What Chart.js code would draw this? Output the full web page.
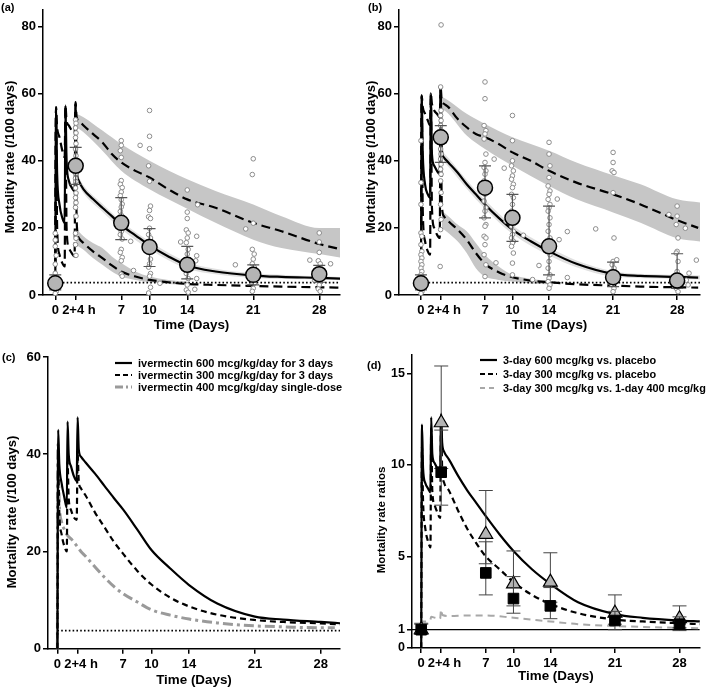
<!DOCTYPE html>
<html><head><meta charset="utf-8">
<script src="https://cdn.jsdelivr.net/npm/chart.js@4.4.1/dist/chart.umd.min.js"></script>
<style>
html,body{margin:0;padding:0;background:#fff;}
#wrap{position:relative;width:709px;height:690px;overflow:hidden;font-family:'Liberation Sans',Arial,sans-serif;font-weight:bold;color:#000;background:#fff;}
canvas{position:absolute;}
.t{position:absolute;white-space:nowrap;font-size:11px;}
.yt{position:absolute;white-space:nowrap;transform:translate(-50%,-50%) rotate(-90deg);font-size:13px;}
.lg{position:absolute;font-size:11px;line-height:14px;height:14px;white-space:nowrap;}
.lg svg{position:absolute;left:0;top:0;}
.lg span{position:absolute;left:23px;top:0;}
</style></head>
<body><div id="wrap">
<canvas id="ca" width="355" height="340" style="left:0;top:0"></canvas>
<canvas id="cb" width="354" height="340" style="left:355px;top:0"></canvas>
<canvas id="cc" width="355" height="350" style="left:0;top:340px"></canvas>
<canvas id="cd" width="354" height="350" style="left:355px;top:340px"></canvas>
<div class="t" style="left:1px;top:1px">(a)</div>
<div class="t" style="left:368px;top:1px">(b)</div>
<div class="t" style="left:2px;top:351px">(c)</div>
<div class="t" style="left:367px;top:359px">(d)</div>
<div class="yt" style="left:9px;top:157px">Mortality rate (/100 days)</div>
<div class="yt" style="left:370px;top:157px">Mortality rate (/100 days)</div>
<div class="yt" style="left:11px;top:512px">Mortality rate (/100 days)</div>
<div class="yt" style="left:381px;top:520px;font-size:11.5px">Mortality rate ratios</div>
<div id="legc"></div>
<div id="legd"></div>
</div>
<script>
// ---------------- DATA ----------------
const X_TICKS = [0, 2.1667, 7, 10, 14, 21, 28];
const X_TICK_LABELS = ['0', '\u20022+4 h', '7', '10', '14', '21', '28'];
const Y_TICKS_AB = [0, 20, 40, 60, 80];
const Y_TICKS_C = [0, 20, 40, 60];
const Y_TICKS_D = [0, 1, 5, 10, 15];
const PLACEBO_RATE = 3.7;
const REF_RATIO = 1;

// model time grid (days)
const T = [0, 0.08, 0.2, 0.45, 0.75, 1.0, 1.08, 1.2, 1.45, 1.75, 2.05, 2.15, 2.27, 2.5, 3, 4, 5, 6, 7, 8.5, 10, 12, 14, 17, 21, 24, 28, 30.3];

// panel (a)
const A_MEDIAN = [0, 56, 36, 27, 23, 21.5, 56.5, 40, 34, 32, 31, 57, 38, 34, 31.5, 28.6, 26, 23.5, 20.8, 17.8, 14.8, 11.5, 8.8, 7, 5.8, 5.4, 5.1, 4.9];
const A_P95 = [0, 56, 50, 47, 43, 41, 56.5, 52, 50.5, 49, 48, 57.5, 53, 52, 50.5, 48, 45.5, 42, 39.5, 37, 35, 31.5, 28.5, 26, 21.5, 19, 15.2, 13.6];
const A_P5 = [0, 55, 20, 12, 9.5, 8.5, 56, 20, 14, 12.5, 11.5, 57, 22, 17, 15.5, 13, 11, 8.8, 7, 5.5, 4.5, 3.8, 3.3, 3, 2.7, 2.5, 2.3, 2.2];
const A_BAND95_T = [2.2, 3, 5, 7, 10, 14, 17, 21, 24, 28, 30.2];
const A_BAND95_HI = [54, 53, 49, 45, 40, 34.5, 31, 27, 23.5, 20, 20];
const A_BAND95_LO = [50, 48.5, 43, 37, 31.5, 25.7, 21.5, 16.5, 14, 12.2, 11.2];
const A_BAND5_T = [2.2, 3, 4, 5, 6, 7, 8.5, 10, 12, 14];
const A_BAND5_HI = [20, 17.5, 15.5, 14, 11.5, 9.5, 7, 5.5, 4.5, 4];
const A_BAND5_LO = [15, 13.5, 11, 9, 7, 5.5, 4.5, 3.8, 3.3, 3.1];
const A_BANDMED_T = [2.5, 3, 5, 7, 10, 14, 17, 21, 28, 30.2];
const A_BANDMED_HI = [35.2, 32.7, 27.2, 22, 16, 9.8, 7.8, 6.5, 5.6, 5.4];
const A_BANDMED_LO = [32.8, 30.3, 24.8, 19.6, 13.6, 7.8, 6.2, 5.1, 4.6, 4.4];
const OBS_DAYS = [0, 2.1667, 7, 10, 14, 21, 28];
const A_OBS_MEAN = [3.5, 38.5, 21.5, 14.3, 9, 6, 6.2];
const A_OBS_LO = [1.5, 33, 16.5, 8.5, 4.8, 3, 3.8];
const A_OBS_HI = [6, 44, 29, 19.8, 14.5, 9, 8.8];
const A_INDIV = [
 [0,18.4],[0,16.4],[0,14.5],[0.1,11.8],[0,9.2],[0,6.5],[0.1,1.0],[0,0.5],
 [2.15,52.2],[2.2,51.2],[2.15,49.8],[2.2,48.3],[2.15,46.9],[2.2,45.1],[2.15,43.5],[2.2,41.5],[2.15,40.1],[2.2,36.2],[2.15,34.8],[2.2,33.8],[2.15,31.9],[2.2,30.4],[2.15,29],[2.2,27.5],[2.15,26.1],[2.2,23.5],[2.15,18.4],[2.2,16.9],[2.15,15],[2.2,11.8],
 [7,46],[7,44.6],[6.9,43],[7,41],[7,34.1],[6.9,33],[7.1,32],[7,30.7],[6.9,29.6],[7,28.4],[7.1,27.1],[7,26.2],[6.9,24.9],[7,23.8],[7.1,22.3],[7,18.9],[6.9,18],[7.1,16.7],[7,13.6],[6.9,12.7],[7.1,11.2],[7,10.2],[7,6.2],[7.1,5.6],[8,16],[9,44.6],[8.3,7.3],
 [10,55],[10,47.3],[10,43.6],[9.9,38.5],[10,33.9],[10.1,26.5],[10,25.2],[9.9,23.3],[10.1,22.8],[10,19.9],[9.9,18],[10.1,17],[10,15],[9.9,12.7],[10.1,10.7],[10,9.3],[9.9,8.3],[10.1,6.4],[10,5.6],[10.1,2.3],[9.9,0.6],[11.1,3.5],
 [14,31.3],[14,24.7],[14,22.8],[13.9,19.4],[14.1,18.5],[14,17],[13.9,15.6],[14.1,13.6],[14,12.2],[13.9,10.2],[14.1,8.3],[14,7.1],[13.9,6.4],[14.1,4.9],[14,3],[13.9,1.5],[14.1,0.8],[13.3,15.8],[15.1,26.9],[15,17.5],[15,11.7],[14.9,10.2],[15,4.9],[14.8,1.7],
 [21,40.6],[20.9,35.9],[21,21.4],[20.9,13.6],[21.1,12.2],[21,10.7],[20.9,9.3],[21.1,8.3],[21,6.9],[20.9,4.9],[21.1,3.5],[21,2],[20.9,1.1],[19.1,9],[20.2,19.7],
 [28,18.5],[28,15.8],[28,12.7],[27.9,10.2],[28.1,9.3],[28,6.9],[27.9,5.4],[28.1,4],[28,3],[27.9,1.8],[28.1,1.1],[27,10.4],[29.2,9.3],[27.5,4.4]
];

// panel (b)
const B_MEDIAN = [0, 59.5, 42, 33, 30, 29, 60, 42, 38.5, 37, 36, 62, 44, 41, 39.5, 36.5, 33, 30, 27, 23, 19.5, 16, 13, 9.3, 6.3, 5.7, 5.4, 5.2];
const B_P95 = [0, 59.5, 56, 54, 52, 50.5, 60, 57, 55, 54, 53, 62, 58, 57, 56, 52.5, 50, 48, 47, 45, 42.5, 40, 37, 33.5, 30, 27, 22.3, 20];
const B_P5 = [0, 59, 25, 16, 13, 12, 60, 26, 20, 18, 17, 62, 28, 23.5, 22, 19.5, 16.5, 12.5, 9.3, 6.8, 5.3, 4.3, 3.8, 3.2, 2.8, 2.5, 2.3, 2.2];
const B_BAND95_T = [2.3, 3, 5, 7, 10, 14, 17, 21, 24, 28, 30.6];
const B_BAND95_HI = [59, 58, 54, 51, 47, 43, 39.5, 35.7, 33, 28.5, 27.5];
const B_BAND95_LO = [55.5, 54, 47.5, 43.5, 38.5, 32.5, 28.5, 24.6, 21.5, 16.9, 15.9];
const B_BAND5_T = [2.3, 3, 4, 5, 6, 7, 8.5, 10, 12, 14];
const B_BAND5_HI = [25, 23.5, 21, 19, 15.5, 12, 8.5, 6, 4.8, 4.3];
const B_BAND5_LO = [20, 18.5, 16, 12.5, 8, 5.5, 4.5, 4, 3.4, 3.2];
const B_BANDMED_T = [2.5, 3, 5, 7, 10, 14, 17, 21, 28, 30.6];
const B_BANDMED_HI = [42.3, 40.8, 34.3, 28.3, 20.8, 14.2, 10.3, 7.1, 6, 5.8];
const B_BANDMED_LO = [39.7, 38.2, 31.7, 25.7, 18.2, 11.8, 8.3, 5.5, 4.8, 4.6];
const B_OBS_MEAN = [3.5, 47, 32, 23, 14.5, 5.3, 4.3];
const B_OBS_LO = [1.5, 39.5, 23, 16, 6, 2.5, 2];
const B_OBS_HI = [6, 50.5, 38.5, 30, 26.5, 9.8, 12.3];
const B_INDIV = [
 [0,46],[0,33.5],[0,27],[0,18.5],[0.1,17.5],[0,15],[0.1,13],[0,12],[0.1,11],[0,10],[0.1,9],[0,8],[0.1,7],[0,6],[0.1,5],[0,4],[0.1,3],[0,2],[0.1,1],[0,0.5],
 [2.2,80.5],[2.15,62],[2.2,55],[2.15,53.5],[2.2,52],[2.15,50.5],[2.2,49],[2.15,47.5],[2.2,45.5],[2.15,43.5],[2.2,42],[2.15,40.5],[2.2,39],[2.15,37.5],[2.2,36],[2.15,34],[2.2,30.5],[2.15,27],[2.2,22.5],[2.15,19.5],[2.1,8.5],
 [7,63.5],[7,58.5],[6.9,50.5],[7.1,49],[7,48],[6.9,46.5],[7.1,42],[7,39.5],[6.9,38],[7.1,37],[7,36],[6.9,34],[7.1,32],[7,30],[6.9,28],[7.1,26],[7,25],[6.9,23],[7.1,21],[7,20.5],[6.9,17.5],[7.1,17],[7,15],[6.9,12],[7.1,9],[7,5.5],[8,40.5],[8.2,9.6],
 [10,53.5],[10,46],[10,40],[9.9,38.5],[10.1,37],[10,35.5],[9.9,34.5],[10.1,33],[10,32],[9.9,30],[10.1,29],[10,27],[9.9,25],[10.1,24],[10,22],[9.9,20.5],[10.1,19],[10,18],[9.9,17],[10.1,16],[10,15.5],[9.9,14.5],[10.1,12.5],[10,9.5],[10,6],[9.1,37.8],[11.2,17.8],[12.2,4.6],[9.3,22],
 [14,45.5],[14,42],[14.1,38.5],[14,35],[13.9,32.5],[14.1,31],[14,30],[13.9,28.5],[14.1,27],[14,26],[13.9,25],[14.1,23],[14,21],[13.9,19],[14.1,17],[14,16],[13.9,14],[14.1,12],[14,10],[13.9,8],[14.1,6],[14,5],[13.9,4],[14.1,3],[14,2],[14.9,28.6],[15.1,16.5],[16,18.9],[12.9,8.8],[16,5.2],[19.1,19.7],
 [21,42.5],[21,39.5],[20.9,37],[21.1,36.5],[21,30.5],[21.1,17],[21,10],[20.9,9],[21.1,8],[21,7],[20.9,6],[21.1,5],[21,4],[20.9,3],[21.1,2],[21,1],[21.4,10.5],
 [28,26.5],[28,23.5],[27.9,21],[28.1,17],[28,13],[27.9,12.5],[28.1,10],[28,7],[27.9,5],[28.1,4],[28,3],[27.9,2],[28.1,1],[27.1,24],[28.9,19.9],[30.1,10.4],[29,4.4],[29.2,3],[29.3,6.5]
];

// panel (c)
const C_600X3 = [0, 45, 38, 34, 31, 29, 46.7, 40, 37.5, 35.5, 34.5, 47.6, 41, 39.5, 38.3, 36, 33.5, 31, 28.6, 24.5, 20.3, 16.5, 13.1, 9.3, 6.6, 6, 5.5, 5.2];
const C_300X3 = [0, 39, 28, 23.5, 21, 20, 38.5, 31, 28.5, 27, 26.5, 40, 34.5, 33, 31.5, 28, 25, 22, 19.5, 16, 13.2, 10.5, 8.7, 7, 5.9, 5.5, 5.2, 5.0];
const C_400_T = [0, 0.05, 0.2, 0.45, 0.75, 1.0, 1.5, 2, 2.5, 3, 4, 5, 6, 7, 8.5, 10, 12, 14, 17, 21, 24, 28, 29.5];
const C_400X1 = [0, 42, 30, 26, 24.5, 23.5, 22.5, 21.3, 20, 19, 16.8, 14.7, 12.8, 11.3, 9.6, 8.0, 6.9, 6.1, 5.3, 4.7, 4.5, 4.3, 4.3];
const C_LEGEND = ['ivermectin 600 mcg/kg/day for 3 days', 'ivermectin 300 mcg/kg/day for 3 days', 'ivermectin 400 mcg/kg/day single-dose'];

// panel (d)
const D_600_VS_PLB = [0, 12.2, 9.8, 9.0, 8.7, 8.5, 12.6, 10.6, 10.1, 9.8, 9.6, 12.8, 11.2, 10.7, 10.3, 9.4, 8.6, 7.9, 7.2, 6.2, 5.3, 4.3, 3.5, 2.5, 1.85, 1.65, 1.5, 1.45];
const D_300_VS_PLB = [0, 11, 8, 6.5, 5.8, 5.5, 12, 8.6, 7.8, 7.4, 7.1, 12.4, 9.8, 9.0, 8.6, 7.5, 6.5, 5.7, 5.0, 4.3, 3.6, 2.9, 2.4, 1.9, 1.55, 1.45, 1.35, 1.3];
const D_ALT_T = [0, 0.08, 0.5, 0.9, 1.0, 1.08, 1.5, 2.05, 2.15, 2.3, 3, 5, 7, 10, 14, 17, 21, 24, 28, 30.2];
const D_300_VS_400 = [1.3, 1.45, 1.45, 1.5, 1.55, 1.7, 1.65, 1.6, 2.1, 1.8, 1.75, 1.78, 1.78, 1.65, 1.45, 1.3, 1.2, 1.15, 1.1, 1.08];
const D_TRI = [1.0, 12.3, 6.2, 3.5, 3.6, 1.9, 1.6];
const D_TRI_LO = [0.75, 9.8, 4.6, 2.3, 2.5, 1.3, 1.1];
const D_TRI_HI = [1.35, 15.4, 8.6, 5.3, 5.2, 2.9, 2.3];
const D_SQ = [1.0, 9.6, 4.1, 2.7, 2.3, 1.5, 1.3];
const D_SQ_LO = [0.75, 7.8, 2.9, 1.9, 1.6, 1.0, 0.95];
const D_SQ_HI = [1.3, 11.9, 5.8, 3.9, 3.3, 2.0, 1.7];
const D_LEGEND = ['3-day 600 mcg/kg vs. placebo', '3-day 300 mcg/kg vs. placebo', '3-day 300 mcg/kg vs. 1-day 400 mcg/kg'];

// ---------------- HELPERS ----------------
const FONT = "'Liberation Sans', Arial, Helvetica, sans-serif";
Chart.defaults.font.family = FONT;
Chart.defaults.font.weight = 'bold';
Chart.defaults.color = '#000';

function xy(xs, ys) { return xs.map((x, i) => ({x: x, y: ys[i]})); }
function pairs(p) { return p.map(a => ({x: a[0], y: a[1]})); }
function band(t, hi, lo, color) {
  return [
    {data: xy(t, hi), borderWidth: 0, pointRadius: 0, fill: '+1', backgroundColor: color, cubicInterpolationMode: 'monotone', order: 10},
    {data: xy(t, lo), borderWidth: 0, pointRadius: 0, fill: false, cubicInterpolationMode: 'monotone', order: 10}
  ];
}
function curve(t, v, extra) {
  return Object.assign({data: xy(t, v), borderColor: '#000', borderWidth: 2.2, pointRadius: 0, fill: false,
    cubicInterpolationMode: 'monotone', order: 5, borderJoinStyle: 'round'}, extra || {});
}
function hline(x0, x1, yv, extra) {
  return Object.assign({data: xy([x0, x1], [yv, yv]), borderColor: '#000', borderWidth: 1.6, pointRadius: 0, fill: false, order: 6}, extra || {});
}

const errorBars = {
  id: 'errorBars',
  beforeDatasetDraw(chart, args) {
    const ds = chart.data.datasets[args.index];
    if (!ds.err) return;
    const ctx = chart.ctx, xs = chart.scales.x, ys = chart.scales.y;
    ctx.save();
    ctx.strokeStyle = ds.err.color; ctx.lineWidth = ds.err.width;
    ds.err.lo.forEach((lo, i) => {
      const px = xs.getPixelForValue(ds.data[i].x);
      const pl = ys.getPixelForValue(lo), ph = ys.getPixelForValue(ds.err.hi[i]);
      const c = ds.err.cap;
      ctx.beginPath();
      ctx.moveTo(px, pl); ctx.lineTo(px, ph);
      ctx.moveTo(px - c, pl); ctx.lineTo(px + c, pl);
      ctx.moveTo(px - c, ph); ctx.lineTo(px + c, ph);
      ctx.stroke();
    });
    ctx.restore();
  }
};

function makeChart(id, p) {
  return new Chart(document.getElementById(id), {
    type: 'line',
    data: {datasets: p.datasets},
    plugins: [errorBars],
    options: {
      responsive: false, animation: false, events: [],
      layout: {padding: {left: 0, right: p.W - p.right, top: p.top, bottom: 0}},
      plugins: {legend: {display: false}, tooltip: {enabled: false}, filler: {drawTime: 'beforeDatasetsDraw'}},
      scales: {
        x: {
          type: 'linear', min: p.xmin, max: p.xmax,
          afterBuildTicks: s => { s.ticks = X_TICKS.map(v => ({value: v})); },
          afterFit: s => { s.height = p.H - p.bottom; },
          ticks: {autoSkip: false, maxRotation: 0, padding: 3, font: {size: 13, weight: 'bold'}, color: '#000',
                  callback: (v, i) => X_TICK_LABELS[i]},
          grid: {drawOnChartArea: false, drawTicks: true, tickLength: 5, color: '#000', lineWidth: 1.5},
          border: {display: true, color: '#000', width: 1.5},
          title: {display: true, text: 'Time (Days)', font: {size: 13.4, weight: 'bold'}, color: '#000', padding: {top: 0, bottom: p.xtpad}}
        },
        y: {
          type: 'linear', min: 0, max: p.ymax,
          afterBuildTicks: s => { s.ticks = p.yticks.map(v => ({value: v})); },
          afterFit: s => { s.width = p.left; },
          ticks: {padding: 2, font: {size: p.yfont || 13, weight: 'bold'}, color: '#000', callback: v => String(v)},
          grid: {drawOnChartArea: false, drawTicks: true, tickLength: 5, color: '#000', lineWidth: 1.5},
          border: {display: true, color: '#000', width: 1.5}
        }
      }
    }
  });
}

const GREY_BAND = '#c6c6c6';
const LIGHT_BAND = '#e0e0e0';
const DASH = [9, 5];
const DOTS = [1.6, 2.2];
const SMALL_PT = {showLine: false, pointRadius: 2.3, pointBorderWidth: 1, pointBorderColor: '#8c8c8c', pointBackgroundColor: '#ffffff', order: 2, clip: false};
const BIG_PT = {showLine: false, pointRadius: 7.5, pointBorderWidth: 1.5, pointBorderColor: '#000', pointBackgroundColor: '#b4b4b4', order: 1, clip: false};

// ---------------- PANEL A ----------------
makeChart('ca', {
  W: 355, H: 340, left: 43, right: 340, top: 3, bottom: 295, xmin: -1.3, xmax: 30.2, ymax: 85, yticks: Y_TICKS_AB, xtpad: 7,
  datasets: [
    ...band(A_BAND95_T, A_BAND95_HI, A_BAND95_LO, GREY_BAND),
    ...band(A_BAND5_T, A_BAND5_HI, A_BAND5_LO, GREY_BAND),
    ...band(A_BANDMED_T, A_BANDMED_HI, A_BANDMED_LO, LIGHT_BAND),
    hline(0, 30.2, PLACEBO_RATE, {borderDash: DOTS, borderWidth: 1.8}),
    curve(T, A_P95, {borderDash: DASH}),
    curve(T, A_P5, {borderDash: DASH}),
    curve(T, A_MEDIAN),
    Object.assign({data: pairs(A_INDIV)}, SMALL_PT),
    Object.assign({data: xy(OBS_DAYS, A_OBS_MEAN), err: {lo: A_OBS_LO, hi: A_OBS_HI, color: '#555', width: 1.2, cap: 6}}, BIG_PT)
  ]
});

// ---------------- PANEL B ----------------
makeChart('cb', {
  W: 354, H: 340, left: 44, right: 353, top: 3, bottom: 295, xmin: -2.4, xmax: 30.5, ymax: 85, yticks: Y_TICKS_AB, xtpad: 7,
  datasets: [
    ...band(B_BAND95_T, B_BAND95_HI, B_BAND95_LO, GREY_BAND),
    ...band(B_BAND5_T, B_BAND5_HI, B_BAND5_LO, GREY_BAND),
    ...band(B_BANDMED_T, B_BANDMED_HI, B_BANDMED_LO, LIGHT_BAND),
    hline(0, 30.5, PLACEBO_RATE, {borderDash: DOTS, borderWidth: 1.8}),
    curve(T, B_P95, {borderDash: DASH}),
    curve(T, B_P5, {borderDash: DASH}),
    curve(T, B_MEDIAN),
    Object.assign({data: pairs(B_INDIV)}, SMALL_PT),
    Object.assign({data: xy(OBS_DAYS, B_OBS_MEAN), err: {lo: B_OBS_LO, hi: B_OBS_HI, color: '#555', width: 1.2, cap: 6}}, BIG_PT)
  ]
});

// ---------------- PANEL C ----------------
makeChart('cc', {
  W: 355, H: 350, left: 48, right: 340, top: 17, bottom: 308.7, xmin: -1.0, xmax: 30.05, ymax: 60, yticks: Y_TICKS_C, xtpad: 2,
  datasets: [
    hline(0, 30.05, PLACEBO_RATE, {borderDash: DOTS, borderWidth: 1.8}),
    curve(C_400_T, C_400X1, {borderColor: '#9a9a9a', borderWidth: 3, borderDash: [10, 4, 3, 4], order: 7}),
    curve(T, C_300X3, {borderDash: [6, 4]}),
    curve(T, C_600X3)
  ]
});

// ---------------- PANEL D ----------------
makeChart('cd', {
  W: 354, H: 350, left: 57, right: 354, top: 15, bottom: 308, xmin: -1.0, xmax: 30.2, ymax: 16, yticks: Y_TICKS_D, xtpad: 5.5, yfont: 12.5,
  datasets: [
    hline(-1.0, 30.2, REF_RATIO, {borderWidth: 1.2, order: 8}),
    curve(D_ALT_T, D_300_VS_400, {borderColor: '#a8a8a8', borderWidth: 2, borderDash: [7, 5], order: 7}),
    curve(T, D_300_VS_PLB, {borderDash: [6, 4]}),
    curve(T, D_600_VS_PLB),
    {data: xy(OBS_DAYS, D_TRI), showLine: false, pointStyle: 'triangle', pointRadius: 8, pointBorderWidth: 1.2, pointBorderColor: '#000', pointBackgroundColor: '#b4b4b4', order: 2, clip: false,
     err: {lo: D_TRI_LO, hi: D_TRI_HI, color: '#444', width: 1, cap: 7}},
    {data: xy(OBS_DAYS, D_SQ), showLine: false, pointStyle: 'rect', pointRadius: 7.5, pointBorderWidth: 1, pointBorderColor: '#000', pointBackgroundColor: '#000', order: 1, clip: false,
     err: {lo: D_SQ_LO, hi: D_SQ_HI, color: '#444', width: 1, cap: 7}}
  ]
});

// ---------------- LEGENDS ----------------
function legend(containerId, x, ys, items, fontSize) {
  const host = document.getElementById(containerId);
  items.forEach((it, i) => {
    const d = document.createElement('div');
    d.className = 'lg';
    d.style.left = x + 'px';
    d.style.top = (ys[i] - 7) + 'px';
    d.style.fontSize = fontSize + 'px';
    d.innerHTML = '<svg width="18" height="14"><line x1="0" y1="7" x2="17" y2="7" stroke="' + it.color + '" stroke-width="' + it.w + '"' +
      (it.dash ? ' stroke-dasharray="' + it.dash + '"' : '') + '/></svg><span></span>';
    d.querySelector('span').textContent = it.text;
    host.appendChild(d);
  });
}
legend('legc', 115, [362.7, 375, 387.3], [
  {text: C_LEGEND[0], color: '#000', w: 2.2},
  {text: C_LEGEND[1], color: '#000', w: 2.2, dash: '5,3'},
  {text: C_LEGEND[2], color: '#9a9a9a', w: 3, dash: '8,3,2,3'}
], 11);
legend('legd', 480, [360, 374, 387.7], [
  {text: D_LEGEND[0], color: '#000', w: 2.2},
  {text: D_LEGEND[1], color: '#000', w: 2.2, dash: '5,3'},
  {text: D_LEGEND[2], color: '#a8a8a8', w: 2, dash: '5,4'}
], 10.9);
</script>
</body></html>
